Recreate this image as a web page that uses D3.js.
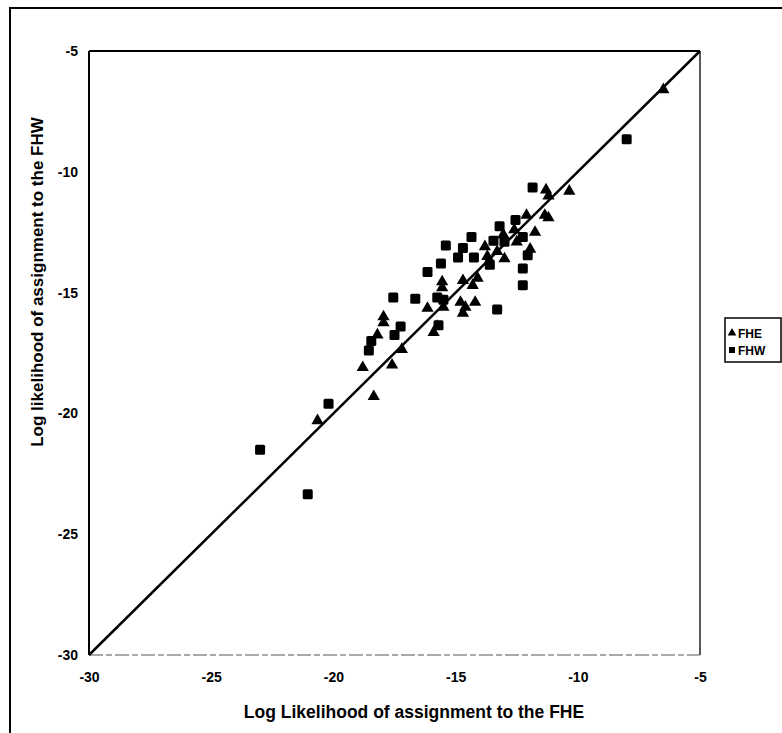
<!DOCTYPE html>
<html>
<head>
<meta charset="utf-8">
<script src="https://cdn.jsdelivr.net/npm/d3@7"></script>
<style>
  body { margin: 0; background: #fff; overflow: hidden; }
  svg { display: block; }
  svg text { font-family: "Liberation Sans", Arial, sans-serif; font-weight: bold; }
</style>
</head>
<body>
<svg id="chart"></svg>
<script>
// FHE points (triangles): [x, y]
const fheX = [-6.5, -10.35, -11.3, -11.2, -11.35, -11.2, -12.1, -11.75, -11.95, -12.5, -13.05, -13.8, -13.7, -13.0, -12.6,
  -14.7, -14.1, -14.3, -15.55, -15.55, -16.15, -15.5, -14.8, -14.2, -14.7, -14.6, -17.95, -17.95, -15.75, -15.9,
  -18.2, -17.2, -17.6, -18.8, -18.35, -20.65, -13.3];
const fheY = [-6.6, -10.8, -10.75, -11.0, -11.8, -11.9, -11.8, -12.5, -13.2, -12.9, -12.6, -13.1, -13.5, -13.6, -12.4,
  -14.5, -14.4, -14.7, -14.55, -14.8, -15.65, -15.6, -15.4, -15.4, -15.85, -15.6, -16.0, -16.25, -16.4, -16.65,
  -16.75, -17.35, -18.0, -18.1, -19.3, -20.3, -13.3];

// FHW points (squares)
const fhwX = [-8.0, -11.85, -12.55, -13.2, -12.25, -14.35, -13.45, -12.05, -12.25, -12.25, -13.3, -15.4, -14.7, -14.9,
  -14.25, -13.6, -15.6, -16.15, -17.55, -16.65, -15.75, -17.25, -15.7, -17.5, -18.45, -18.55, -20.2, -23.0, -21.05,
  -13.0, -15.5];
const fhwY = [-8.65, -10.65, -12.0, -12.25, -12.7, -12.7, -12.85, -13.45, -14.0, -14.7, -15.7, -13.05, -13.15, -13.55,
  -13.55, -13.85, -13.8, -14.15, -15.2, -15.25, -15.2, -16.4, -16.35, -16.75, -17.0, -17.4, -19.6, -21.5, -23.35,
  -12.9, -15.3];

const tickValues = [-30, -25, -20, -15, -10, -5];
const xTitle = "Log Likelihood of assignment to the FHE";
const yTitle = "Log likelihood of assignment to the FHW";
const seriesNames = ["FHE", "FHW"];

const width = 782, height = 733;
const margin = { top: 51, right: 82, bottom: 78, left: 89 };
const innerWidth = width - margin.left - margin.right;   // 611
const innerHeight = height - margin.top - margin.bottom; // 604

const svg = d3.select("#chart").attr("width", width).attr("height", height);

// outer frame (runs off the right and bottom edges)
svg.append("path")
  .attr("d", `M10,${height} V8 H${width}`)
  .attr("fill", "none").attr("stroke", "#000").attr("stroke-width", 2);

const g = svg.append("g").attr("transform", `translate(${margin.left},${margin.top})`);

const x = d3.scaleLinear().domain([-30, -5]).range([0, innerWidth]);
const y = d3.scaleLinear().domain([-30, -5]).range([innerHeight, 0]);

// plain hyphen minus, like the original
const fmt = d => String(d);

// plot box
g.append("line").attr("x1", 0).attr("y1", 0).attr("x2", 0).attr("y2", innerHeight)
  .attr("stroke", "#000").attr("stroke-width", 2);
g.append("line").attr("x1", 0).attr("y1", 0).attr("x2", innerWidth).attr("y2", 0)
  .attr("stroke", "#000").attr("stroke-width", 2);
g.append("line").attr("x1", innerWidth).attr("y1", 0).attr("x2", innerWidth).attr("y2", innerHeight)
  .attr("stroke", "#222").attr("stroke-width", 1.5);
g.append("line").attr("x1", 0).attr("y1", innerHeight).attr("x2", innerWidth).attr("y2", innerHeight)
  .attr("stroke", "#555").attr("stroke-width", 1.2).attr("stroke-dasharray", "14,3,6,3");

// axes (labels only, no visible ticks)
const xAxis = g.append("g")
  .attr("transform", `translate(0,${innerHeight})`)
  .call(d3.axisBottom(x).tickValues(tickValues).tickFormat(fmt).tickSize(0).tickPadding(17));
xAxis.select(".domain").remove();
xAxis.selectAll("text").attr("font-size", "14px").attr("fill", "#000");

const yAxis = g.append("g")
  .call(d3.axisLeft(y).tickValues(tickValues).tickFormat(fmt).tickSize(0).tickPadding(11));
yAxis.select(".domain").remove();
yAxis.selectAll("text").attr("font-size", "14px").attr("fill", "#000");

// 1:1 line
g.append("line")
  .attr("x1", x(-30)).attr("y1", y(-30)).attr("x2", x(-5)).attr("y2", y(-5))
  .attr("stroke", "#000").attr("stroke-width", 2.5);

// data
const triangle = d3.symbol().type(d3.symbolTriangle).size(65);
g.selectAll(".fhe")
  .data(d3.zip(fheX, fheY))
  .enter().append("path")
  .attr("class", "fhe")
  .attr("d", triangle)
  .attr("transform", d => `translate(${x(d[0])},${y(d[1])})`)
  .attr("fill", "#000");

g.selectAll(".fhw")
  .data(d3.zip(fhwX, fhwY))
  .enter().append("rect")
  .attr("class", "fhw")
  .attr("x", d => x(d[0]) - 5)
  .attr("y", d => y(d[1]) - 5)
  .attr("width", 10).attr("height", 10)
  .attr("rx", 1.5)
  .attr("fill", "#000");

// axis titles
svg.append("text")
  .attr("x", 414)
  .attr("y", 718)
  .attr("text-anchor", "middle")
  .attr("font-size", "17.5px")
  .text(xTitle);

svg.append("text")
  .attr("transform", "translate(43,282) rotate(-90)")
  .attr("text-anchor", "middle")
  .attr("font-size", "17px")
  .text(yTitle);

// legend
const legend = svg.append("g").attr("transform", "translate(725,318)");
legend.append("rect")
  .attr("width", 56).attr("height", 44)
  .attr("fill", "#fff").attr("stroke", "#000").attr("stroke-width", 1.5);

seriesNames.forEach((name, i) => {
  const row = legend.append("g").attr("transform", `translate(0,${15 + i * 17})`);
  if (i === 0) {
    row.append("path").attr("d", d3.symbol().type(d3.symbolTriangle).size(32))
      .attr("transform", "translate(7,0)").attr("fill", "#000");
  } else {
    row.append("rect").attr("x", 4).attr("y", -3).attr("width", 6).attr("height", 6).attr("fill", "#000");
  }
  row.append("text")
    .attr("x", 13).attr("y", 4.5)
    .attr("font-size", "12px")
    .text(name);
});
</script>
</body>
</html>
